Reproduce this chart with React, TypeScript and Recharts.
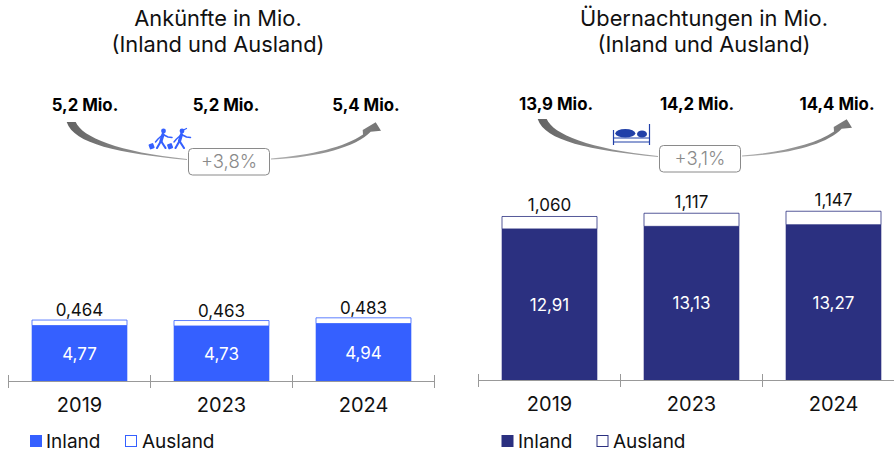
import React from "react";
import { BarChart, Bar, XAxis, YAxis, LabelList, Legend } from "recharts";

const years = ["2019", "2023", "2024"];
const arrivalsDomestic = [4.77, 4.73, 4.94];
const arrivalsForeign = [0.464, 0.463, 0.483];
const nightsDomestic = [12.91, 13.13, 13.27];
const nightsForeign = [1.06, 1.117, 1.147];
const arrivalsTotals = ["5,2 Mio.", "5,2 Mio.", "5,4 Mio."];
const nightsTotals = ["13,9 Mio.", "14,2 Mio.", "14,4 Mio."];
const FONT = "Inter, sans-serif";
const BLUE = "#3560FF";
const NAVY = "#2B3080";

const table = (a: number[], b: number[]) =>
  years.map((year, i) => ({ year, Inland: a[i], Ausland: b[i] }));

const comma = (digits: number) => (v: any) => Number(v).toFixed(digits).replace(".", ",");

const makeTick = () => (props: any) => {
  const { x, y, payload, index, visibleTicksCount } = props;
  const half = 71;
  const mark = (mx: number) => (
    <line x1={mx} x2={mx} y1={y - 6.5} y2={y + 6.5} stroke="#999" strokeWidth={1} />
  );
  return (
    <g>
      {mark(x - half)}
      {index === visibleTicksCount - 1 ? mark(x + half) : null}
      <text x={x} y={y + 30.5} textAnchor="middle" fontSize={20} fill="#111" fontFamily={FONT}>
        {payload.value}
      </text>
    </g>
  );
};

const makeLegend = (color: string, x: number[]) => (props: any) => {
  const items = [...(props.payload || [])].sort((a: any, b: any) => (a.value === "Inland" ? -1 : b.value === "Inland" ? 1 : 0));
  return (
    <svg width={300} height={20} style={{ display: "block", overflow: "visible", position: "absolute", left: 0, top: 0 }}>
      {items.map((it: any, i: number) => (
        <g key={it.value}>
          <rect
            x={x[i * 2]}
            y={3.5}
            width={11}
            height={11}
            fill={it.value === "Inland" ? color : "#fff"}
            stroke={color}
            strokeWidth={1}
          />
          <text x={x[i * 2 + 1]} y={15.5} fontSize={19} fill="#111" fontFamily={FONT}>
            {it.value}
          </text>
        </g>
      ))}
    </svg>
  );
};

function Panel(props: {
  data: any[];
  color: string;
  left: number;
  width: number;
  mLeft: number;
  mRight: number;
  bottom: number;
  legendTop: number;
  legendX: number[];
  labelOffset: number;
}) {
  const { data, color, left, width, mLeft, mRight, bottom, legendTop, legendX, labelOffset } = props;
  return (
    <div style={{ position: "absolute", left, top: 0 }}>
      <BarChart
        width={width}
        height={453}
        data={data}
        barCategoryGap={23.5}
        margin={{ left: mLeft, right: mRight, top: 453 - bottom - 234.8, bottom: bottom - 1 }}
      >
        <YAxis hide domain={[0, 20]} />
        <XAxis
          dataKey="year"
          interval={0}
          tickSize={0}
          tickMargin={0}
          height={1}
          axisLine={{ stroke: "#999", strokeWidth: 1 }}
          tickLine={false}
          tick={makeTick()}
        />
        <Bar dataKey="Inland" stackId="a" fill={color} stroke={color} strokeOpacity={0.6} isAnimationActive={false}>
          <LabelList
            dataKey="Inland"
            position="center"
            fill="#fff"
            fontSize={17}
            fontWeight={400}
            fontFamily={FONT}
            formatter={comma(2)}
          />
        </Bar>
        <Bar dataKey="Ausland" stackId="a" fill="#fff" stroke={color} strokeOpacity={0.8} isAnimationActive={false}>
          <LabelList
            dataKey="Ausland"
            position="top"
            offset={labelOffset}
            fill="#111"
            fontSize={17}
            fontFamily={FONT}
            formatter={comma(3)}
          />
        </Bar>
        <Legend
          itemSorter={null as any}
          content={makeLegend(color, legendX)}
          wrapperStyle={{ position: "absolute", left: 0, top: legendTop, width: 300, height: 0, bottom: "auto" }}
        />
      </BarChart>
    </div>
  );
}

function Trend(props: { dx: number; dy: number; label: string; id: string }) {
  const { dx, dy, label, id } = props;
  return (
    <g transform={`translate(${dx},${dy})`}>
      <defs>
        <linearGradient id={id + "a"} x1="0" x2="1" y1="0" y2="0">
          <stop offset="0" stopColor="#636363" />
          <stop offset="1" stopColor="#a8a8a8" />
        </linearGradient>
        <linearGradient id={id + "b"} x1="0" x2="1" y1="0" y2="0">
          <stop offset="0" stopColor="#b0b0b0" />
          <stop offset="1" stopColor="#747474" />
        </linearGradient>
      </defs>
      <path
        d="M66.7 122 L75.7 122 C82 137 118 152 187 159 L187 160 C118 153 74 144 66.7 122 Z"
        fill={`url(#${id}a)`}
      />
      <path
        d="M271 158.6 C312 155 345 147 363 134.5 L362.7 130 L375.7 122.3 L381 130.7 L370.7 131.7 C356 147 320 157 271 159.6 Z"
        fill={`url(#${id}b)`}
      />
      <rect x={188.5} y={148.5} width={81} height={26.5} rx={4} fill="#fff" stroke="#8a8a8a" strokeWidth={1} />
      <text x={229} y={168} textAnchor="middle" fontSize={18.5} fontWeight={300} fill="#8a8a8a" fontFamily={FONT}>
        {label}
      </text>
    </g>
  );
}

function Walker({ x, girl }: { x: number; girl?: boolean }) {
  return (
    <g transform={`translate(${x},0)`} stroke={BLUE} fill="none" strokeLinecap="round" strokeLinejoin="round">
      <circle cx={163.5} cy={131} r={2.4} fill={BLUE} stroke="none" />
      <path d="M163 134.5 L161 141" strokeWidth={3.2} />
      <path d="M161 141 L157 148 M161 141 L165.5 148" strokeWidth={2.1} />
      <path d="M163 134.5 L168 137 L172 137.5 M163 134.5 L158 139 L155.5 142" strokeWidth={1.5} />
      <rect
        x={149}
        y={143.5}
        width={5}
        height={5.5}
        rx={1}
        fill={BLUE}
        stroke="none"
        transform="rotate(-20 151.5 146)"
      />
      {girl ? <path d="M165 130 L168 128.5" strokeWidth={1.2} /> : null}
    </g>
  );
}

function Bed() {
  const c = "#2140A8";
  return (
    <g>
      <ellipse cx={625.3} cy={133.3} rx={10} ry={4.3} fill={c} />
      <ellipse cx={642} cy={134} rx={5} ry={3.6} fill={c} />
      <g stroke={c} strokeWidth={1.2}>
        <line x1={613.5} x2={613.5} y1={130} y2={145} />
        <line x1={649.5} x2={649.5} y1={124} y2={145} />
        <line x1={613.5} x2={649.5} y1={138} y2={138} />
        <line x1={613.5} x2={649.5} y1={142} y2={142} />
      </g>
    </g>
  );
}

const title = (x: number, lines: string[]) =>
  lines.map((t, i) => (
    <text key={t} x={x} y={26 + i * 26} textAnchor="middle" fontSize={21.8} fill="#111" fontFamily={FONT}>
      {t}
    </text>
  ));

const totals = (xs: number[], y: number, labels: string[]) =>
  labels.map((t, i) => (
    <text key={i} x={xs[i]} y={y} textAnchor="middle" fontSize={16.8} fontWeight={700} fill="#000" fontFamily={FONT}>
      {t}
    </text>
  ));

export default function App() {
  return (
    <div style={{ position: "absolute", left: 0, top: 0, width: 894, height: 453, overflow: "hidden", background: "#fff" }}>
      <Panel
        data={table(arrivalsDomestic, arrivalsForeign)}
        color={BLUE}
        left={0}
        width={447}
        mLeft={8.5}
        mRight={12.5}
        bottom={71.5}
        legendTop={432}
        legendX={[30.5, 46, 125.5, 142]}
        labelOffset={4}
      />
      <Panel
        data={table(nightsDomestic, nightsForeign)}
        color={NAVY}
        left={447}
        width={458}
        mLeft={31.5}
        mRight={0.5}
        bottom={72.5}
        legendTop={432}
        legendX={[55, 71, 150, 166]}
        labelOffset={5}
      />
      <svg width={894} height={453} style={{ position: "absolute", left: 0, top: 0, pointerEvents: "none" }}>
        {title(218, ["Ankünfte in Mio.", "(Inland und Ausland)"])}
        {title(704, ["Übernachtungen in Mio.", "(Inland und Ausland)"])}
        {totals([85, 226, 366], 111, arrivalsTotals)}
        {totals([556, 697, 837], 110, nightsTotals)}
        <Trend dx={0} dy={0} label="+3,8%" id="t1" />
        <Trend dx={471} dy={-3} label="+3,1%" id="t2" />
        <Walker x={0} />
        <Walker x={18.5} girl />
        <Bed />
      </svg>
    </div>
  );
}
